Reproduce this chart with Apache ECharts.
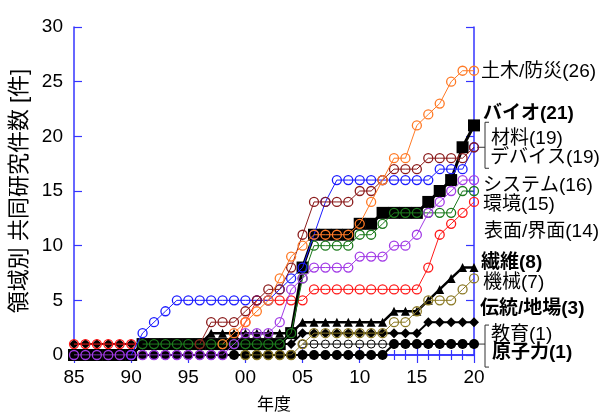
<!DOCTYPE html>
<html>
<head>
<meta charset="utf-8">
<script src="https://cdn.jsdelivr.net/npm/echarts@6/dist/echarts.min.js"></script>
<style>
  html, body { margin: 0; padding: 0; background: #fff; }
  #chart { width: 605px; height: 415px; }
</style>
</head>
<body>
<div id="chart"></div>
<script>
// Fiscal years on the horizontal axis
const years = [1985, 1986, 1987, 1988, 1989, 1990, 1991, 1992, 1993, 1994,
               1995, 1996, 1997, 1998, 1999, 2000, 2001, 2002, 2003, 2004,
               2005, 2006, 2007, 2008, 2009, 2010, 2011, 2012, 2013, 2014,
               2015, 2016, 2017, 2018, 2019, 2020];
const yTicks = [0, 5, 10, 15, 20, 25, 30];

// Cumulative number of joint research projects per field (null = not started yet)
const genshiryoku = [0,0,0,0,0,0,0,0,0,0, 0,0,0,0,0,0,0,0,0,0, 0,0,0,0,0,0,0,0,1,1, 1,1,1,1,1,1];
const dentou     = [1,1,1,1,1,1,1,1,1,1, 1,1,1,1,1,1,1,1,1,1, 2,2,2,2,2,2,2,2,2,2, 2,3,3,3,3,3];
const hyoumen    = [1,1,1,1,1,1,1,1,1,1, 1,1,1,1,1,3,5,5,5,5, 5,6,6,6,6,6,6,6,6,6, 6,8,11,12,13,14];
const bio        = [0,0,0,0,0,0,1,1,1,1, 1,1,1,1,1,1,1,1,1,2, 8,11,11,11,11,12,12,13,13,13, 13,14,15,16,19,21];
const seni       = [null,null,null,null,null,null,null,null,null,null, null,1,2,2,2,2,2,2,2,2, 3,3,3,3,3,3,3,3,4,4, 4,5,6,7,8,8];
const kyouiku    = [null,null,null,null,null,null,null,null,null,null, null,null,null,null,null,null,null,null,null,null, 1,1,1,1,1,1,1,1,1,1, 1,1,1,1,1,1];
const kikai      = [null,null,null,null,null,null,null,null,null,null, null,null,null,null,null,0,0,0,0,0, 1,2,2,2,2,2,2,2,3,3, 4,5,5,5,6,7];
const kankyou    = [null,null,null,null,null,null,1,1,1,1, 1,1,1,1,1,1,1,1,1,2, 7,10,10,10,10,11,11,12,13,13, 13,13,13,13,15,15];
const device     = [null,null,null,null,null,0,2,3,4,5, 5,5,5,5,5,5,5,5,6,7, 8,11,14,16,16,16,16,16,16,16, 16,16,17,17,17,19];
const system     = [0,0,0,0,0,0,0,0,0,0, 0,0,0,0,1,2,2,2,3,6, 7,8,8,8,8,9,9,9,10,10, 11,13,14,15,16,16];
const zairyou    = [null,null,null,null,null,null,null,null,null,null, null,1,3,3,3,4,5,6,6,8, 11,14,14,14,14,15,15,16,17,17, 17,18,18,18,18,19];
const doboku     = [null,null,null,null,null,null,null,null,null,null, null,null,null,1,2,3,4,5,7,9, 10,11,11,11,11,12,14,16,18,18, 21,22,23,25,26,26];

const FONT = '"Liberation Sans", Arial, "Noto Sans CJK JP", sans-serif';
const AXIS_BLUE = '#3535ff';

// Drawing order: first entry is drawn at the bottom
const fields = [
  { name: '原子力',    values: genshiryoku, stroke: '#000', fill: '#000', symbol: 'circle',   size: 10, bw: 0,   lw: 2,   bold: true,  offset: [18, 9] },
  { name: '伝統/地場', values: dentou,      stroke: '#000', fill: '#000', symbol: 'diamond',  size: 10, bw: 0,   lw: 2,   bold: true,  offset: [6, -13] },
  { name: '表面/界面', values: hyoumen,     stroke: '#ff1a1a', fill: 'rgba(0,0,0,0)', symbol: 'circle', size: 9, bw: 1.3, lw: 1, bold: false, offset: [10, 30] },
  { name: 'バイオ',    values: bio,         stroke: '#000', fill: '#000', symbol: 'rect',     size: 12, bw: 0,   lw: 3,   bold: true,  offset: [9, -12] },
  { name: '繊維',      values: seni,        stroke: '#000', fill: '#000', symbol: 'triangle', size: 9,  bw: 0,   lw: 2.5, bold: true,  offset: [7, -5] },
  { name: '教育',      values: kyouiku,     stroke: '#000', fill: 'rgba(0,0,0,0)', symbol: 'circle', size: 8, bw: 1, lw: 1, bold: false, offset: [17, -9] },
  { name: '機械',      values: kikai,       stroke: '#8c7a26', fill: 'rgba(0,0,0,0)', symbol: 'circle', size: 9, bw: 1.3, lw: 1, bold: false, offset: [9, 4] },
  { name: '環境',      values: kankyou,     stroke: '#1d7a1d', fill: 'rgba(0,0,0,0)', symbol: 'circle', size: 9, bw: 1.3, lw: 1, bold: false, offset: [9, 14] },
  { name: 'デバイス',  values: device,      stroke: '#1c1cff', fill: 'rgba(0,0,0,0)', symbol: 'circle', size: 9, bw: 1.3, lw: 1, bold: false, offset: [16, 10] },
  { name: 'システム',  values: system,      stroke: '#a23be6', fill: 'rgba(0,0,0,0)', symbol: 'circle', size: 9, bw: 1.3, lw: 1, bold: false, offset: [9, 6] },
  { name: '材料',      values: zairyou,     stroke: '#8b1c1c', fill: 'rgba(0,0,0,0)', symbol: 'circle', size: 9, bw: 1.3, lw: 1, bold: false, offset: [17, -9] },
  { name: '土木/防災', values: doboku,      stroke: '#ff7a26', fill: 'rgba(0,0,0,0)', symbol: 'circle', size: 9, bw: 1.3, lw: 1, bold: false, offset: [7, 1] }
];

function toPoints(values) {
  const pts = [];
  years.forEach((y, i) => { if (values[i] !== null) pts.push([y, values[i]]); });
  return pts;
}

const series = fields.map((f, i) => ({
  type: 'line',
  name: f.name,
  data: toPoints(f.values),
  xAxisIndex: 0,
  yAxisIndex: 0,
  z: 2 + i,
  symbol: f.symbol,
  symbolSize: f.size,
  showAllSymbol: true,
  itemStyle: { color: f.fill, borderColor: f.stroke, borderWidth: f.bw },
  lineStyle: { color: f.stroke, width: f.lw },
  emphasis: { disabled: true },
  endLabel: {
    show: true,
    formatter: p => p.seriesName + '(' + p.value[1] + ')',
    color: '#000',
    fontFamily: FONT,
    fontSize: 19,
    fontWeight: f.bold ? 'bold' : 'normal',
    distance: 0,
    offset: f.offset,
    align: 'left',
    verticalAlign: 'middle'
  }
}));

function xAxisCfg(pos, showLabels) {
  return {
    type: 'value', position: pos, min: 1985, max: 2020, interval: 5,
    axisLine: { show: true, lineStyle: { color: AXIS_BLUE, width: 1.5 } },
    axisTick: { show: true, inside: true, length: 8, lineStyle: { color: AXIS_BLUE, width: 1.2 } },
    minorTick: { show: true, splitNumber: 5, length: 5, lineStyle: { color: AXIS_BLUE, width: 1.2 } },
    splitLine: { show: false },
    axisLabel: showLabels ? {
      show: true, color: '#000', fontFamily: FONT, fontSize: 19, margin: 13,
      formatter: v => String(v % 100).padStart(2, '0')
    } : { show: false },
    name: showLabels ? '年度' : '',
    nameLocation: 'middle', nameGap: 42,
    nameTextStyle: { color: '#000', fontFamily: FONT, fontSize: 17 }
  };
}

function yAxisCfg(pos, showLabels) {
  return {
    type: 'value', position: pos, min: yTicks[0], max: yTicks[yTicks.length - 1], interval: 5,
    axisLine: { show: true, lineStyle: { color: AXIS_BLUE, width: 1.5 } },
    axisTick: { show: true, inside: true, length: 8, lineStyle: { color: AXIS_BLUE, width: 1.2 } },
    splitLine: { show: false },
    axisLabel: showLabels ? { show: true, color: '#000', fontFamily: FONT, fontSize: 19, margin: 11 } : { show: false },
    name: showLabels ? '領域別 共同研究件数 [件]' : '',
    nameLocation: 'middle', nameGap: 40, nameRotate: 90,
    nameTextStyle: { color: '#000', fontFamily: FONT, fontSize: 22 }
  };
}

const chart = echarts.init(document.getElementById('chart'), null, { renderer: 'canvas' });
chart.setOption({
  animation: false,
  backgroundColor: '#fff',
  grid: { left: 74, right: 131, top: 27, bottom: 60, outerBoundsMode: 'none', containLabel: false },
  xAxis: [xAxisCfg('bottom', true), xAxisCfg('top', false)],
  yAxis: [yAxisCfg('left', true), yAxisCfg('right', false)],
  series: series
});

// Brackets grouping labels that share the same count
function bracket(value, up, down) {
  const p = chart.convertToPixel({ xAxisIndex: 0, yAxisIndex: 0 }, [2020, value]);
  const x = p[0] + 11, y = p[1];
  return [
    { type: 'polyline', shape: { points: [[x + 4, y - up], [x, y - up], [x, y + down], [x + 4, y + down]] },
      style: { stroke: '#333', lineWidth: 1, fill: null } },
    { type: 'line', shape: { x1: p[0] + 3, y1: y, x2: x, y2: y }, style: { stroke: '#333', lineWidth: 1 } }
  ];
}
chart.setOption({ graphic: [].concat(bracket(19, 25, 21), bracket(1, 19, 23)) });
</script>
</body>
</html>
